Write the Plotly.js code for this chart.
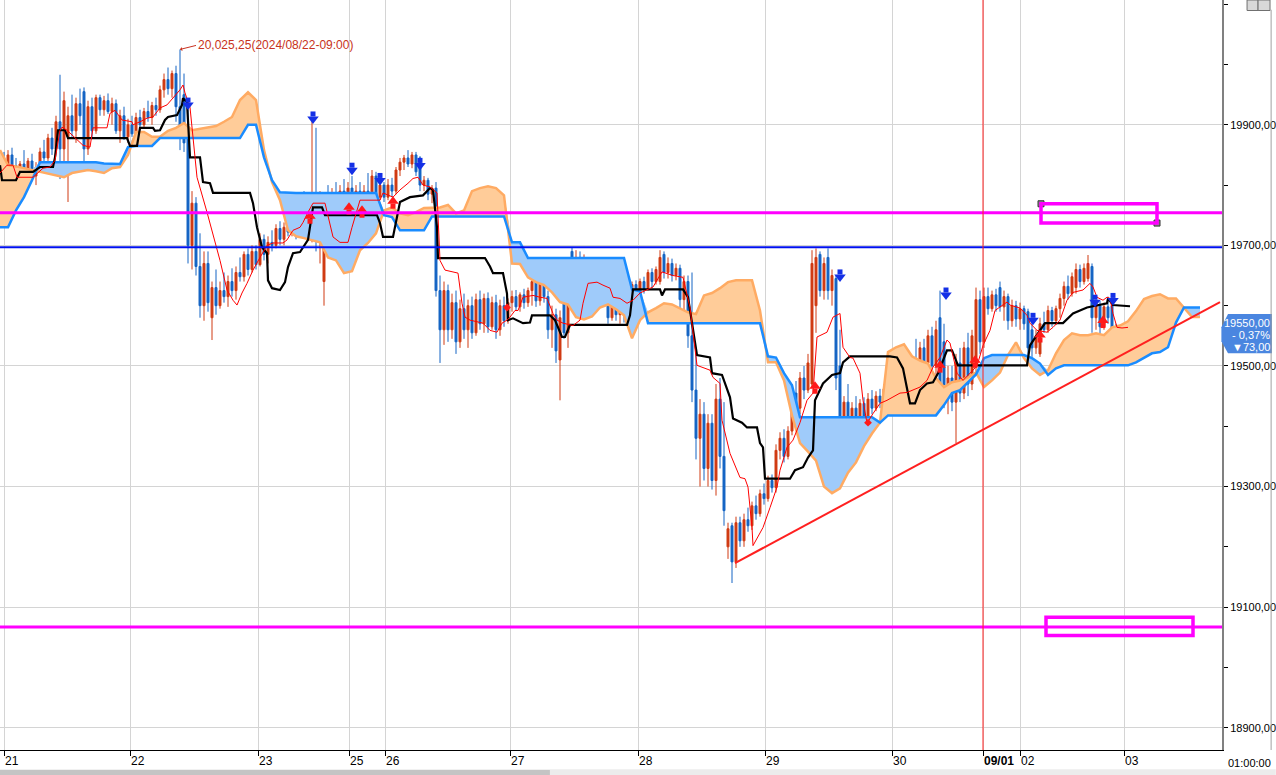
<!DOCTYPE html>
<html><head><meta charset="utf-8">
<script src="https://cdn.plot.ly/plotly-3.0.1.min.js"></script>
<style>html,body{margin:0;padding:0;background:#fff;}#chart{width:1276px;height:775px;}</style>
</head><body><div id="chart"></div>
<script>
// ---- axis labels ----
const dayTickPos = [1,32.5,64.5,87.25,96.25,127.5,159.5,191.25,223,245.75,255,281];
const dayTickText = ['21','22','23','25','26','27','28','29','30','<b>09/01</b>','02','03'];
const priceTicks = [18900,19100,19300,19500,19700,19900];
const priceMinorTicks = [18900,19000,19100,19200,19300,19400,19500,19600,19700,19800,19900,20000,20100];

// ---- candles (one per bar) ----
const barOpen = [
19830,19840,19822,19850,19832,19812,19835,19820,19840,19815,
19830,19855,19845,19878,19860,19905,19860,19880,19915,19890,
19935,19955,19860,19930,19890,19945,19925,19940,19922,19935,
19890,19915,19880,19900,19885,19912,19900,19922,19912,19932,
19925,19958,19975,19960,19985,19930,19950,19880,19700,19770,
19665,19600,19670,19580,19630,19600,19625,19615,19640,19625,
19655,19648,19685,19660,19690,19668,19710,19685,19705,19700,
19728,19710,19730,19722,19760,19725,19768,19742,19720,19780,
19710,19640,19755,19705,19785,19745,19790,19745,19795,19750,
19790,19755,19790,19775,19815,19780,19800,19780,19800,19790,
19825,19838,19845,19835,19850,19845,19800,19808,19785,19795,
19625,19560,19625,19560,19605,19540,19595,19560,19600,19555,
19610,19570,19612,19565,19605,19560,19600,19575,19605,19615,
19598,19618,19605,19625,19640,19608,19638,19615,19560,19585,
19510,19665,19555,19690,19630,19680,19635,19670,19625,19650,
19615,19630,19612,19580,19610,19585,19605,19590,19610,19635,
19620,19640,19628,19655,19640,19640,19685,19655,19670,19650,
19662,19610,19640,19550,19460,19380,19420,19330,19405,19310,
19445,19350,19200,19235,19175,19240,19210,19245,19235,19268,
19255,19288,19280,19310,19298,19360,19380,19350,19392,19455,
19430,19480,19460,19470,19600,19685,19625,19680,19625,19645,
19500,19400,19440,19385,19430,19410,19438,19415,19445,19430,
19450,19440,19462,19470,19458,19482,19470,19495,19480,19510,
19495,19530,19505,19550,19500,19580,19540,19450,19480,19440,
19505,19455,19530,19470,19500,19610,19540,19615,19595,19618,
19630,19598,19615,19575,19600,19578,19595,19590,19560,19530,
19520,19570,19560,19592,19575,19595,19612,19632,19620,19630,
19660,19640,19645,19665,19580,19600,19565,19598,19600,19555,
19530,19552,19545];
const barHigh = [
19850,19855,19858,19862,19845,19840,19858,19845,19852,19838,
19862,19875,19885,19895,19915,19983,19955,19930,19950,19945,
19960,19962,19940,19945,19950,19950,19948,19952,19945,19942,
19925,19930,19910,19915,19920,19925,19928,19940,19938,19945,
19965,19985,19995,19990,19998,20025,19985,19925,19790,19780,
19720,19690,19690,19640,19660,19640,19655,19650,19662,19665,
19680,19690,19695,19700,19700,19720,19718,19715,19725,19735,
19740,19738,19745,19770,19785,19775,19790,19780,19910,19895,
19790,19770,19800,19795,19805,19800,19810,19805,19815,19800,
19805,19800,19820,19825,19822,19810,19805,19810,19812,19830,
19845,19850,19858,19855,19855,19848,19815,19812,19800,19805,
19650,19640,19635,19620,19625,19610,19620,19610,19615,19620,
19625,19620,19622,19615,19618,19610,19615,19612,19625,19626,
19622,19628,19630,19650,19648,19645,19650,19625,19600,19595,
19592,19680,19675,19697,19692,19690,19685,19680,19660,19665,
19640,19645,19625,19620,19615,19612,19610,19618,19640,19642,
19645,19648,19660,19662,19665,19692,19690,19680,19678,19670,
19668,19650,19650,19655,19530,19445,19440,19420,19420,19470,
19480,19440,19240,19240,19250,19250,19255,19265,19275,19285,
19295,19305,19318,19320,19370,19390,19395,19400,19470,19475,
19490,19500,19520,19692,19695,19690,19680,19695,19660,19650,
19560,19450,19470,19440,19450,19445,19448,19455,19460,19458,
19462,19470,19480,19485,19490,19495,19500,19505,19515,19545,
19540,19545,19560,19565,19575,19625,19570,19500,19500,19520,
19530,19540,19555,19560,19630,19625,19630,19630,19625,19628,
19640,19625,19620,19610,19608,19605,19600,19595,19575,19560,
19580,19590,19600,19598,19600,19620,19640,19650,19655,19670,
19668,19670,19684,19670,19610,19608,19605,19615,19612,19570,
19560,19562,19565];
const barLow = [
19810,19815,19812,19825,19800,19805,19815,19795,19810,19800,
19820,19835,19840,19850,19855,19810,19830,19772,19880,19870,
19900,19840,19850,19880,19885,19915,19915,19918,19900,19885,
19870,19875,19870,19880,19878,19890,19895,19905,19900,19915,
19920,19945,19950,19945,19905,19858,19855,19670,19660,19650,
19580,19575,19590,19543,19585,19595,19605,19598,19615,19610,
19640,19640,19650,19655,19660,19665,19675,19670,19690,19695,
19700,19700,19715,19715,19710,19715,19730,19725,19705,19690,
19670,19600,19690,19700,19730,19725,19735,19720,19740,19735,
19740,19745,19765,19765,19770,19775,19772,19775,19780,19785,
19815,19825,19830,19828,19815,19790,19790,19775,19770,19615,
19505,19535,19540,19545,19520,19530,19545,19530,19545,19550,
19560,19555,19555,19560,19545,19550,19565,19570,19590,19592,
19590,19595,19598,19600,19598,19600,19605,19545,19530,19505,
19443,19545,19530,19620,19580,19620,19625,19615,19610,19605,
19600,19605,19570,19575,19575,19570,19572,19580,19605,19612,
19612,19620,19625,19630,19635,19635,19645,19645,19640,19642,
19595,19580,19530,19440,19345,19300,19310,19300,19295,19285,
19330,19235,19180,19140,19165,19200,19200,19225,19228,19245,
19250,19270,19275,19290,19290,19345,19340,19345,19385,19420,
19420,19445,19455,19465,19555,19615,19610,19610,19600,19460,
19345,19385,19370,19375,19400,19400,19405,19410,19420,19425,
19430,19435,19445,19450,19452,19460,19465,19470,19475,19480,
19490,19495,19500,19490,19470,19440,19430,19420,19425,19372,
19440,19445,19450,19460,19490,19520,19530,19585,19590,19590,
19590,19575,19560,19565,19565,19560,19560,19515,19515,19520,
19515,19555,19555,19565,19568,19580,19600,19610,19615,19620,
19630,19635,19640,19555,19560,19550,19560,19570,19540,19515,
19530,19540,19540];
const barClose = [
19840,19822,19850,19832,19812,19835,19820,19840,19815,19830,
19855,19845,19878,19860,19905,19860,19940,19915,19890,19935,
19915,19860,19930,19890,19945,19925,19940,19922,19935,19890,
19915,19880,19900,19885,19912,19900,19922,19912,19932,19925,
19958,19975,19960,19985,19930,19880,19870,19700,19770,19665,
19600,19670,19605,19630,19600,19625,19615,19640,19625,19655,
19648,19685,19660,19690,19668,19710,19685,19705,19700,19728,
19710,19730,19722,19760,19725,19768,19742,19772,19780,19710,
19775,19755,19705,19785,19745,19790,19745,19795,19750,19790,
19755,19790,19775,19815,19780,19800,19780,19800,19790,19825,
19838,19845,19835,19850,19822,19800,19808,19785,19795,19625,
19560,19625,19560,19605,19540,19595,19560,19600,19555,19610,
19570,19612,19565,19605,19560,19600,19575,19605,19615,19598,
19618,19605,19625,19640,19608,19638,19615,19560,19585,19525,
19580,19555,19665,19630,19680,19635,19670,19625,19650,19615,
19630,19612,19580,19610,19585,19605,19590,19610,19635,19620,
19640,19628,19655,19640,19660,19680,19655,19670,19650,19662,
19610,19640,19550,19460,19380,19420,19330,19405,19310,19445,
19350,19260,19230,19175,19240,19210,19245,19235,19268,19255,
19288,19280,19310,19298,19360,19380,19350,19392,19455,19430,
19480,19460,19505,19670,19680,19625,19670,19625,19650,19480,
19400,19440,19385,19430,19410,19438,19415,19445,19430,19450,
19440,19462,19470,19458,19482,19470,19495,19480,19510,19495,
19530,19505,19550,19500,19560,19470,19450,19480,19440,19505,
19455,19530,19470,19550,19610,19540,19615,19595,19618,19600,
19598,19615,19575,19600,19578,19595,19570,19530,19530,19550,
19570,19560,19592,19575,19595,19612,19632,19620,19648,19660,
19640,19662,19670,19580,19600,19565,19598,19580,19555,19530,
19552,19545,19550];

// ---- conversion line (red thin) ----
const tenkanX = [0,1.75,3.25,4.25,8.25,10.75,12.5,13.75,15,15.5,16.75,20.75,22.5,23.25,26.75,27.5,28.75,30.5,33,33.25,35,36.75,38.25,40,41.75,43.25,45,45.75,46.25,47.5,49.25,51.75,53,55,56.75,58.25,59.25,60.5,61.75,63.25,65,66.75,68.25,70.75,71.75,73.25,75,75.75,77,78.25,81.25,83.25,85,87,88,90,95,95.75,98.25,100,102,103.25,104.5,105.75,107.5,109.25,110,111.25,114.5,115.5,116.25,117.5,120.75,122.5,124.25,125.5,126.75,127.5,128.75,129.5,130.75,133.25,135,136.75,138.25,139.25,140.75,143.25,145,145.75,147,149.25,150.75,152.5,153.25,155,156.75,158.25,160,163.25,165.5,168.25,170.75,172.5,174.25,177.5,178.25,180,180.5,181.75,182.5,185,186.25,187,188,188.25,190.75,192.5,194.25,195,196.75,198.25,200,201.75,203.25,204.25,206.75,208.25,210,210.75,212.5,213.25,215,215.75,216.75,218.25,220,221.75,223.25,225,226.75,228.25,230,231.75,233.25,235,236.75,237.5,239.25,240.75,242.5,244.25,245.75,247.5,248.75,251.75,252.5,255,256.75,257.5,259.25,261.75,263.25,265,266.75,268.25,270.75,272.5,273.25,274.25,275.75,276.75,277.5,278.25,279.25,280.5,282];
const tenkanY = [19820,19833,19833,19813,19813,19828,19830,19841,19891,19896,19891,19866,19863,19895,19895,19919,19924,19908,19905,19900,19905,19911,19913,19928,19933,19944,19958,19966,19953,19929,19813,19755,19725,19675,19626,19609,19601,19621,19637,19659,19680,19700,19704,19704,19709,19725,19730,19738,19755,19770,19770,19714,19705,19705,19730,19775,19775,19787,19780,19792,19803,19811,19813,19800,19797,19787,19675,19659,19654,19604,19581,19576,19571,19559,19556,19571,19576,19581,19592,19592,19614,19617,19614,19612,19587,19576,19571,19567,19576,19604,19637,19639,19634,19629,19614,19612,19604,19609,19621,19631,19656,19650,19647,19597,19501,19493,19481,19471,19410,19377,19355,19315,19313,19299,19232,19202,19232,19265,19299,19327,19365,19377,19406,19443,19455,19548,19556,19581,19587,19531,19514,19513,19488,19443,19405,19421,19438,19443,19448,19455,19456,19460,19465,19476,19498,19514,19543,19538,19488,19476,19488,19500,19534,19559,19592,19606,19601,19596,19584,19571,19559,19556,19564,19576,19609,19622,19626,19637,19631,19614,19609,19614,19612,19587,19564,19563,19564];

// ---- base line (black) ----
const kijunX = [0,0.5,4,5,8.25,10,13.25,13.75,14.5,16.25,17,31.75,32.5,34.25,35,38.25,38.75,40,41.25,42,44.25,45.5,45.75,46.75,47.5,50,50.75,52.5,53.25,62.5,63.25,64.25,65.5,66.75,67,68,70,71.25,72,73.25,75,75.75,77,78.25,80.5,81.25,94.25,95,95.75,98.25,99.25,100,102.5,105.75,107.5,108.25,109.25,109.5,121.25,122.5,123.25,125.75,126.75,127,128.25,130.75,132.5,133,137.5,138.75,140.5,141.25,142.5,156.75,157.5,158.25,165,165.5,166.25,170.75,172,174.25,177.5,178,180.5,182.5,183.25,185.5,186.75,189.25,190,190.75,191.25,197.5,198.75,200.75,202,203.25,203.75,205.75,208,210,210.75,212.5,222.5,224.25,225.75,227.5,228.75,230,231.75,233.25,234.5,236.75,238,239.5,256.75,257.5,260,261.25,265.75,268.25,271.75,276.75,277,278.25,282.5];
const kijunY = [19833,19808,19808,19822,19822,19830,19830,19846,19891,19891,19878,19878,19865,19865,19895,19895,19890,19891,19908,19913,19916,19933,19944,19938,19846,19846,19805,19803,19787,19787,19770,19730,19697,19687,19642,19629,19626,19639,19664,19687,19689,19697,19709,19763,19763,19750,19750,19737,19714,19714,19747,19772,19780,19783,19795,19792,19730,19679,19679,19665,19654,19654,19620,19576,19579,19571,19572,19584,19584,19576,19548,19548,19568,19568,19584,19627,19627,19617,19627,19627,19614,19518,19514,19488,19485,19448,19413,19406,19398,19398,19372,19365,19313,19313,19327,19332,19348,19360,19443,19471,19485,19488,19506,19516,19516,19514,19496,19438,19438,19460,19471,19473,19488,19526,19526,19501,19501,19534,19559,19571,19571,19587,19597,19604,19612,19601,19599];

// ---- leading spans (one value every 2 bars, shifted ahead) ----
const spanA = [
19858,19833,19831,19828,19825,19822,19820,19817,19813,19820,
19822,19825,19823,19820,19828,19830,19850,19888,19888,19880,
19880,19890,19895,19903,19891,19893,19895,19898,19905,19913,
19941,19954,19941,19858,19805,19775,19725,19715,19712,19709,
19705,19680,19675,19654,19657,19692,19704,19720,19758,19763,
19753,19750,19755,19762,19762,19763,19767,19753,19758,19790,
19795,19798,19795,19783,19670,19669,19647,19639,19634,19622,
19606,19602,19581,19577,19582,19597,19602,19594,19584,19546,
19576,19589,19596,19604,19602,19596,19589,19586,19617,19621,
19629,19639,19642,19642,19642,19592,19506,19506,19476,19418,
19372,19358,19343,19300,19289,19297,19323,19340,19367,19388,
19406,19523,19531,19536,19516,19509,19504,19480,19465,19473,
19476,19481,19489,19465,19476,19489,19518,19539,19513,19496,
19485,19493,19521,19543,19554,19551,19551,19554,19551,19564,
19567,19574,19591,19611,19616,19619,19612,19612,19596,19581,
19581];
const spanB = [
19730,19730,19758,19780,19808,19838,19838,19838,19838,19838,
19838,19838,19838,19836,19835,19835,19863,19865,19865,19865,
19878,19878,19878,19878,19878,19878,19878,19878,19878,19878,
19878,19900,19900,19846,19808,19788,19787,19787,19787,19787,
19787,19787,19787,19787,19787,19787,19787,19787,19750,19747,
19725,19725,19725,19725,19748,19748,19748,19748,19748,19748,
19748,19748,19748,19748,19705,19705,19679,19679,19679,19679,
19679,19679,19679,19679,19679,19679,19679,19679,19679,19627,
19624,19571,19571,19571,19571,19571,19571,19571,19571,19571,
19571,19571,19571,19571,19571,19571,19516,19514,19488,19468,
19415,19415,19415,19415,19415,19415,19415,19415,19415,19415,
19406,19418,19418,19418,19418,19418,19418,19418,19435,19455,
19460,19473,19486,19513,19518,19518,19518,19518,19518,19513,
19504,19485,19496,19501,19501,19501,19501,19501,19501,19501,
19501,19501,19506,19514,19521,19523,19531,19572,19597,19597,
19597];

// ---- signals ----
const sellX = [47,78.25,88,95,105,210,236.5,258.25,273.75,278.25];
const sellY = [19936,19913,19828,19811,19836,19651,19621,19579,19609,19612];
const buyX = [77.5,87.25,90.5,98.25,203.75,235,243.75,260,275.75];
const buyY = [19745,19760,19755,19770,19463,19498,19506,19548,19572];
const dotX = [126.75,217];
const dotY = [19597,19406];

// ---- drawn levels ----
const magentaLevels = [19754,19067];
const blueLevel = 19697;
const trendX = [183.75,305];
const trendY = [19173,19606];
const rectX0 = [260.25,261.5], rectX1 = [289.25,298.25];
const rectY0 = [19737,19053], rectY1 = [19769,19083];
const changeAbs = -73, changePct = -0.37;

// ---------------------------------------------------------------
const FONT = '"Liberation Sans",Arial,sans-serif';
const yRange = [18863, 20107];
const pxY = (yRange[1] - yRange[0]) / 750;
const N = barClose.length;
const barX = barClose.map((_, i) => i);
const cloudX = spanA.map((_, i) => i * 2);
const cloudTop = spanA.map((a, i) => Math.max(a, spanB[i]));
const fmt = v => v.toFixed(2).replace('.', ',');
const skip = {hoverinfo: 'skip', showlegend: false};

const traces = [
  Object.assign({x: cloudX, y: spanB, mode: 'lines', line: {width: 0}}, skip),
  Object.assign({x: cloudX, y: cloudTop, mode: 'lines', line: {width: 0}, fill: 'tonexty', fillcolor: '#ffcc99'}, skip),
  Object.assign({x: cloudX, y: spanA, mode: 'lines', line: {width: 0}}, skip),
  Object.assign({x: cloudX, y: cloudTop, mode: 'lines', line: {width: 0}, fill: 'tonexty', fillcolor: '#9fcbfa'}, skip),
  Object.assign({x: cloudX, y: spanA, mode: 'lines', line: {color: '#ffab63', width: 2.5}}, skip),
  Object.assign({x: cloudX, y: spanB, mode: 'lines', line: {color: '#1a8cff', width: 2.5}}, skip),
  Object.assign({type: 'candlestick', x: barX, open: barOpen, high: barHigh, low: barLow, close: barClose,
    whiskerwidth: 0,
    increasing: {line: {color: '#d03a12', width: 1}, fillcolor: '#d03a12'},
    decreasing: {line: {color: '#1464c4', width: 1}, fillcolor: '#1464c4'}}, skip),
  Object.assign({x: kijunX, y: kijunY, mode: 'lines', line: {color: '#000000', width: 2.2}}, skip),
  Object.assign({x: tenkanX, y: tenkanY, mode: 'lines', line: {color: '#ff0000', width: 1}}, skip),
  Object.assign({x: sellX, y: sellY.map(v => v + 3 * pxY), mode: 'markers', marker: {symbol: 'square', size: 5, color: '#1430e6'}}, skip),
  Object.assign({x: sellX, y: sellY.map(v => v - 2 * pxY), mode: 'markers', marker: {symbol: 'triangle-down', size: 10, color: '#1430e6'}}, skip),
  Object.assign({x: buyX, y: buyY.map(v => v - 3 * pxY), mode: 'markers', marker: {symbol: 'square', size: 5, color: '#ff1a1a'}}, skip),
  Object.assign({x: buyX, y: buyY.map(v => v + 2 * pxY), mode: 'markers', marker: {symbol: 'triangle-up', size: 10, color: '#ff1a1a'}}, skip),
  Object.assign({x: dotX, y: dotY, mode: 'markers', marker: {symbol: 'diamond', size: 6, color: '#ff1a1a'}}, skip),
  Object.assign({x: [rectX0[0], rectX1[0]], y: [rectY1[0], rectY0[0]], mode: 'markers', cliponaxis: false,
    marker: {symbol: 'square', size: 6, color: '#8a8a8a', line: {color: '#333', width: 1}}}, skip)
];

const shapes = [];
magentaLevels.forEach(v => shapes.push({type: 'line', xref: 'paper', x0: 0, x1: 1, y0: v, y1: v, line: {color: '#ff00ff', width: 3}}));
shapes.push({type: 'line', xref: 'paper', x0: 0, x1: 1, y0: blueLevel, y1: blueLevel, line: {color: '#0010f0', width: 2}});
shapes.push({type: 'line', x0: dayTickPos[9], x1: dayTickPos[9], yref: 'paper', y0: 0, y1: 1, line: {color: '#ff2020', width: 1}});
shapes.push({type: 'line', x0: trendX[0], y0: trendY[0], x1: trendX[1], y1: trendY[1], line: {color: '#ff2020', width: 2}});
rectX0.forEach((x0, i) => shapes.push({type: 'rect', x0: x0, x1: rectX1[i], y0: rectY0[i], y1: rectY1[i], line: {color: '#ff00ff', width: 3.5}}));
const lp = barClose[N - 1];
shapes.push({type: 'path', xref: 'paper', yref: 'y',
  path: `M 1.0049,${lp + 36} L 1.0409,${lp + 36} L 1.0409,${lp - 29} L 1.0049,${lp - 29} L 0.9995,${lp - 9} L 0.9995,${lp + 14} Z`,
  fillcolor: '#4a86e0', line: {width: 0}});
// window chrome
shapes.push({type: 'line', xref: 'paper', yref: 'paper', x0: 1.0402, x1: 1.0402, y0: 0, y1: 0.987, line: {color: '#a0a0a0', width: 1}});
shapes.push({type: 'rect', xref: 'paper', yref: 'paper', x0: 1.0205, x1: 1.0295, y0: 0.986, y1: 1.0, fillcolor: '#d8d8d8', line: {color: '#707070', width: 1}});
shapes.push({type: 'rect', xref: 'paper', yref: 'paper', x0: 1.0295, x1: 1.0393, y0: 0.986, y1: 1.0, fillcolor: '#d8d8d8', line: {color: '#707070', width: 1}});
shapes.push({type: 'rect', xref: 'paper', yref: 'paper', x0: 0, x1: 1.044, y0: -0.0335, y1: -0.0255, fillcolor: '#ececec', line: {width: 0}});
shapes.push({type: 'rect', xref: 'paper', yref: 'paper', x0: 0, x1: 0.45, y0: -0.0335, y1: -0.0265, fillcolor: '#c4c4c4', line: {width: 0}});

const hiIdx = barHigh.indexOf(Math.max(...barHigh));
const annotations = [
  {x: hiIdx, y: barHigh[hiIdx], text: '20,025,25(2024/08/22-09:00)', showarrow: true, arrowhead: 1, arrowsize: 0.7,
   arrowwidth: 1, arrowcolor: '#c83220', ax: 16, ay: -4, xanchor: 'left', yanchor: 'middle',
   font: {family: FONT, size: 12, color: '#c83220'}},
  {xref: 'paper', yref: 'paper', x: 1.0035, y: -0.006, xanchor: 'left', yanchor: 'top', showarrow: false,
   text: '01:00:00', font: {family: FONT, size: 11, color: '#000'}},
  {xref: 'paper', x: 1.0409, y: lp, yshift: 13, xanchor: 'right', showarrow: false, text: fmt(lp), font: {family: FONT, size: 11, color: '#fff'}},
  {xref: 'paper', x: 1.0409, y: lp, yshift: 1, xanchor: 'right', showarrow: false, text: '- ' + fmt(Math.abs(changePct)) + '%', font: {family: FONT, size: 11, color: '#fff'}},
  {xref: 'paper', x: 1.0409, y: lp, yshift: -11, xanchor: 'right', showarrow: false, text: '▼' + fmt(Math.abs(changeAbs)), font: {family: FONT, size: 11, color: '#fff'}}
];

const layout = {
  width: 1276, height: 775,
  margin: {l: 0, r: 54, t: 0, b: 25, pad: 0},
  paper_bgcolor: '#ffffff', plot_bgcolor: '#ffffff',
  showlegend: false, hovermode: false, boxgap: 0.3,
  font: {family: FONT, size: 11, color: '#000'},
  xaxis: {
    range: [0, 305.5], tickmode: 'array', tickvals: dayTickPos, ticktext: dayTickText,
    ticks: 'outside', ticklen: 5, tickcolor: '#000', ticklabelposition: 'outside right',
    showgrid: true, gridcolor: '#d4d4d4', gridwidth: 1, showline: true, linecolor: '#000', linewidth: 1,
    zeroline: false, rangeslider: {visible: false}, fixedrange: true, tickfont: {family: FONT, size: 12}
  },
  yaxis: {
    side: 'right', range: yRange, tickmode: 'array', tickvals: priceTicks, ticktext: priceTicks.map(fmt),
    ticks: 'outside', ticklen: 4, tickcolor: '#000', showgrid: true, gridcolor: '#d4d4d4', gridwidth: 1,
    showline: true, linecolor: '#808080', linewidth: 2, zeroline: false, fixedrange: true,
    tickfont: {family: FONT, size: 11},
    minor: {tickmode: 'array', tickvals: priceMinorTicks, ticks: 'outside', ticklen: 4, tickcolor: '#000', showgrid: false}
  },
  shapes: shapes, annotations: annotations
};

Plotly.newPlot('chart', traces, layout, {staticPlot: true, displayModeBar: false});
</script></body></html>
